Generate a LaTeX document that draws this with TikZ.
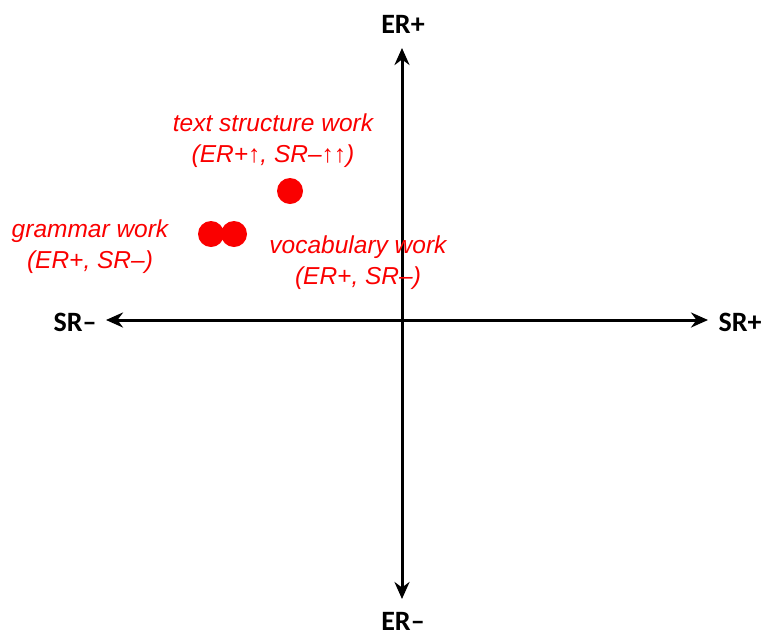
\documentclass[tikz,border=0pt]{standalone}
\usepackage{fontspec}
\setmainfont{Liberation Sans}
\newfontfamily\axisfont{Carlito}
\usetikzlibrary{arrows.meta}
\definecolor{dotred}{RGB}{250,0,0}
\tikzset{
  axisline/.style={line width=3pt, -{Stealth[length=17pt,width=15pt]}, black},
  axislabel/.style={font=\axisfont\bfseries\fontsize{28}{30}\selectfont, text=black, inner sep=0pt},
  redlabel/.style={font=\itshape\fontsize{24.5}{31}\selectfont, text=dotred, align=center, inner sep=0pt},
  dotnode/.style={circle, fill=dotred, minimum size=26pt, inner sep=0pt}
}
\begin{document}
\begin{tikzpicture}[x=1pt,y=-1pt]
\useasboundingbox (0,0) rectangle (768,638);
\coordinate (o) at (402,320);
\coordinate (top) at (402,48);
\coordinate (bot) at (402,599);
\coordinate (left) at (106,320);
\coordinate (right) at (708,320);
\draw[axisline] (o) -- (top);
\draw[axisline] (o) -- (bot);
\draw[axisline] (o) -- (left);
\draw[axisline] (o) -- (right);
\node[axislabel] (erp) at (403,24) {ER+};
\node[axislabel] (erm) at (403,621) {ER–};
\node[axislabel] (srm) at (75,322) {SR–};
\node[axislabel] (srp) at (740,322) {SR+};
\node[dotnode] (d1) at (290,191) {};
\node[dotnode] (d2) at (211,234) {};
\node[dotnode] (d3) at (234,234) {};
\node[redlabel] (t1) at (273,141) {text structure work\\(ER+↑, SR–↑↑)};
\node[redlabel] (t2) at (90,247) {grammar work\\(ER+, SR–)};
\node[redlabel] (t3) at (358,263) {vocabulary work\\(ER+, SR–)};
\end{tikzpicture}
\end{document}
